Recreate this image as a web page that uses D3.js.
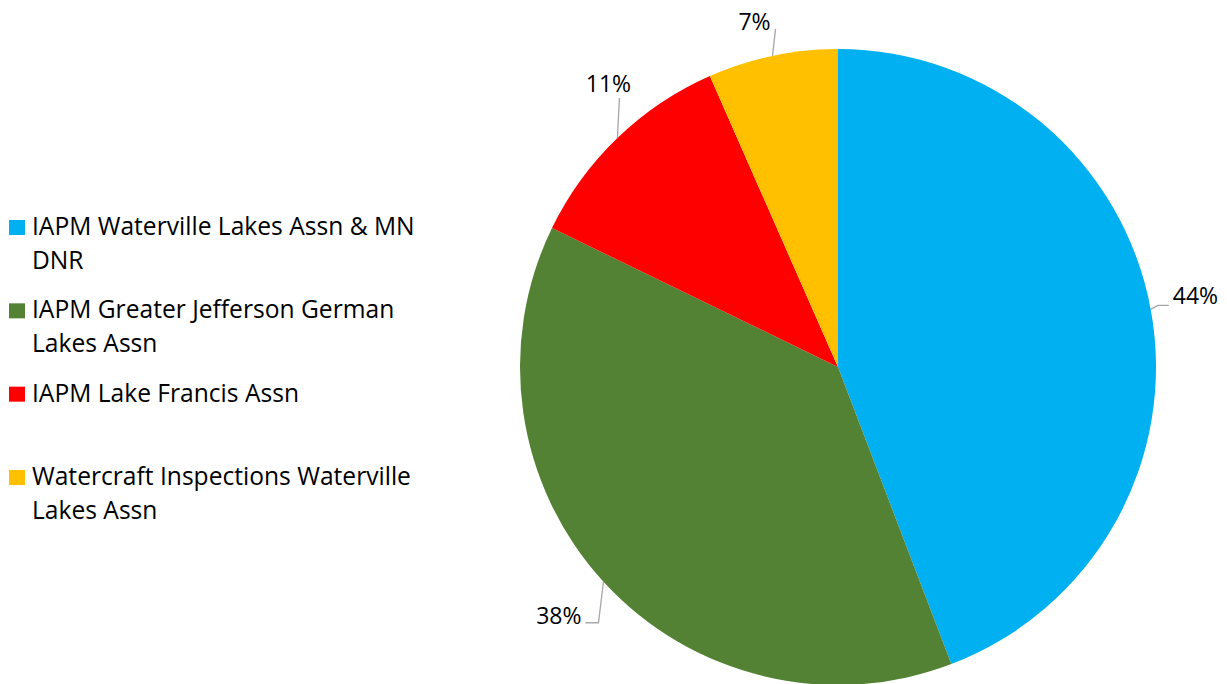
<!DOCTYPE html>
<html>
<head>
<meta charset="utf-8">
<script src="https://cdn.jsdelivr.net/npm/d3@7"></script>
<style>
  body { margin: 0; background: #fff; }
  text { font-family: "Open Sans", Lato, sans-serif; fill: #000; }
</style>
</head>
<body>
<div id="chart"></div>
<script>
var svgWidth = 1227;
var svgHeight = 684;

// data
var categories = [
  ["IAPM Waterville Lakes Assn & MN", "DNR"],
  ["IAPM Greater Jefferson German", "Lakes Assn"],
  ["IAPM Lake Francis Assn"],
  ["Watercraft Inspections Waterville", "Lakes Assn"]
];
var shares = [44.2, 38.0, 11.2, 6.6];
var labels = ["44%", "38%", "11%", "7%"];
var colors = ["#00B0F0", "#548235", "#FF0000", "#FFC000"];

var cx = 838, cy = 367, radius = 318;

var svg = d3.select("#chart")
  .append("svg")
  .attr("width", svgWidth)
  .attr("height", svgHeight);

var pieGroup = svg.append("g")
  .attr("transform", `translate(${cx}, ${cy})`);

var pie = d3.pie().sort(null).value(d => d);
var arcs = pie(shares);

var arc = d3.arc().innerRadius(0).outerRadius(radius);
var edgeArc = d3.arc().innerRadius(radius).outerRadius(radius);

pieGroup.selectAll("path.slice")
  .data(arcs)
  .enter()
  .append("path")
  .attr("class", "slice")
  .attr("d", arc)
  .attr("fill", (d, i) => colors[i]);

// leader line elbows / label anchors relative to the arc point (Excel style)
var labelLayout = [
  { pts: [[7, -4], [18, -4]], tx: 22, ty: -5, anchor: "start" },
  { pts: [[-5, 41], [-18, 41]], tx: -22, ty: 42, anchor: "end" },
  { pts: [[2, -40]], tx: -9, ty: -46, anchor: "middle" },
  { pts: [[3, -27]], tx: -18, ty: -26, anchor: "middle" }
];

arcs.forEach(function(d, i) {
  var p = edgeArc.centroid(d);
  var lay = labelLayout[i];
  var line = [p].concat(lay.pts.map(q => [p[0] + q[0], p[1] + q[1]]));
  pieGroup.append("path")
    .attr("d", d3.line()(line))
    .attr("fill", "none")
    .attr("stroke", "#A6A6A6")
    .attr("stroke-width", 1.3);
  pieGroup.append("text")
    .attr("x", p[0] + lay.tx)
    .attr("y", p[1] + lay.ty)
    .attr("text-anchor", lay.anchor)
    .attr("font-size", "23px")
    .text(labels[i]);
});

// legend
var legend = svg.append("g").attr("transform", "translate(9, 0)");
var legendY = d3.scaleLinear().domain([0, 3]).range([235, 485]);

categories.forEach(function(lines, i) {
  var y = legendY(i);
  legend.append("rect")
    .attr("x", 0)
    .attr("y", y - 15)
    .attr("width", 16)
    .attr("height", 15)
    .attr("fill", colors[i]);
  var t = legend.append("text")
    .attr("x", 23)
    .attr("y", y)
    .attr("font-size", "24.6px");
  lines.forEach(function(s, j) {
    t.append("tspan")
      .attr("x", 23)
      .attr("dy", j === 0 ? 0 : 34)
      .text(s);
  });
});
</script>
</body>
</html>
